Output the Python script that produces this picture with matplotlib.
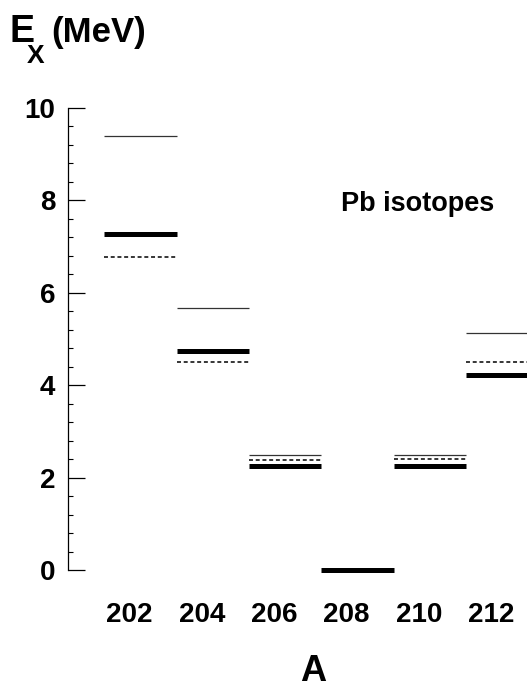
import numpy as np
import matplotlib
matplotlib.use("Agg")
import matplotlib.pyplot as plt
from matplotlib.ticker import MultipleLocator

# mass numbers and level energies (MeV)
mass = [202, 204, 206, 208, 210, 212]
e_thick = [7.27, 4.74, 2.25, 0.00, 2.25, 4.23]
e_thin = [9.40, 5.68, 2.48, np.nan, 2.48, 5.13]
e_dash = [6.78, 4.51, 2.39, np.nan, 2.41, 4.51]
tick_labels = ["202", "204", "206", "208", "210", "212"]

plt.rcParams["font.family"] = ["Liberation Sans", "DejaVu Sans"]
plt.rcParams["font.weight"] = "bold"

fig = plt.figure(figsize=(5.27, 6.9), dpi=100)
ax = fig.add_axes([68 / 527, 120 / 690, 1 - 68 / 527, 462 / 690])

for a, t, th, d in zip(mass, e_thick, e_thin, e_dash):
    ax.hlines(t, a - 1, a + 1, colors="black", lw=3.6, clip_on=False)
    if not np.isnan(th):
        ax.hlines(th, a - 1, a + 1, colors="#333333", lw=0.9, clip_on=False)
    if not np.isnan(d):
        ax.hlines(d, a - 1, a + 1, colors="black", lw=1.1,
                  linestyles=(0, (2.6, 1.8)), clip_on=False)

ax.set_xlim(200, 212.68)
ax.set_ylim(0, 10)

for side in ["top", "right", "bottom"]:
    ax.spines[side].set_visible(False)
ax.spines["left"].set_linewidth(0.9)

ax.yaxis.set_major_locator(MultipleLocator(2))
ax.yaxis.set_minor_locator(MultipleLocator(0.4))
ax.tick_params(axis="y", which="major", direction="in", length=12.5, width=0.9,
               pad=9, labelsize=20)
ax.tick_params(axis="y", which="minor", direction="in", length=3.8, width=0.8)
for lab in ax.get_yticklabels():
    lab.set_fontweight("bold")

ax.set_xticks([a - 0.3 for a in mass])
ax.set_xticklabels(tick_labels, fontsize=20, fontweight="bold")
ax.tick_params(axis="x", length=0, pad=23)

ax.text(207.54, 7.77, "Pb isotopes", fontsize=19.5, fontweight="bold",
        va="baseline", ha="left")

# axis titles
fig.text(9 / 527, 1 - 42 / 690, "E", fontsize=27,
         fontweight="bold", va="baseline", ha="left")
fig.text(27 / 527, 1 - 63 / 690, "X", fontsize=19,
         fontweight="bold", va="baseline", ha="left")
fig.text(51 / 527, 1 - 42 / 690, "(MeV)", fontsize=25,
         fontweight="bold", va="baseline", ha="left")
fig.text(313 / 527, 1 / 690, "A", fontsize=26,
         fontweight="bold", va="bottom", ha="center")

fig.savefig("out.png", dpi=100)
